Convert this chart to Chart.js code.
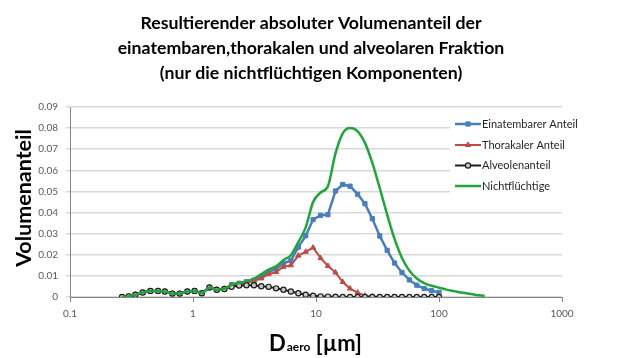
<!DOCTYPE html>
<html>
<head>
<meta charset="utf-8">
<script src="https://cdn.jsdelivr.net/npm/chart.js@4"></script>
<style>
  body { margin: 0; background: #fff; }
  #wrap { width: 620px; height: 358px; }
</style>
</head>
<body>
<div id="wrap"><canvas id="volumenChart" width="620" height="358"></canvas></div>
<script>
// Werte
const durchmesser = [0.265, 0.30, 0.34, 0.39, 0.45, 0.52, 0.59, 0.68, 0.78, 0.90, 1.03, 1.18, 1.36, 1.56, 1.80,
  2.06, 2.37, 2.72, 3.13, 3.59, 4.12, 4.74, 5.44, 6.25, 7.18, 8.25, 9.47, 10.9, 12.5, 14.4, 16.5, 18.9,
  21.8, 25.0, 28.7, 33.0, 37.9, 43.5, 50.0, 57.4, 66.0, 75.8, 87.1, 100];
const durchmesserGruen = [0.265, 0.30, 0.34, 0.39, 0.45, 0.52, 0.59, 0.68, 0.78, 0.90, 1.03, 1.18, 1.36, 1.56, 1.80,
  2.06, 2.37, 2.72, 3.13, 3.59, 4.12, 4.74, 5.44, 6.25, 7.18, 8.25, 9.47, 10.9, 12.5, 14.4, 16.5, 18.9,
  21.8, 25.0, 28.7, 33.0, 37.9, 43.5, 50.0, 57.4, 66.0, 75.8, 87.1, 100, 115, 132, 152, 175, 200, 235];

const einatembar = [0, 0.0003, 0.0011, 0.0021, 0.0029, 0.0029, 0.0026, 0.0016, 0.0016, 0.0026, 0.0029, 0.0018, 0.0045, 0.0034, 0.0039,
  0.0058, 0.0065, 0.0072, 0.008, 0.0098, 0.0118, 0.0133, 0.016, 0.0172, 0.0236, 0.029, 0.0367, 0.0387, 0.039, 0.0502, 0.0533, 0.0525,
  0.0487, 0.0442, 0.0371, 0.0289, 0.0221, 0.0161, 0.0116, 0.0081, 0.0056, 0.004, 0.003, 0.0022];
const thorakal = [0, 0.0003, 0.0011, 0.0021, 0.0029, 0.0029, 0.0026, 0.0016, 0.0016, 0.0026, 0.0029, 0.0018, 0.0045, 0.0034, 0.0039,
  0.0056, 0.0062, 0.0068, 0.0076, 0.0088, 0.0108, 0.0118, 0.0143, 0.015, 0.0196, 0.0214, 0.0234, 0.0184, 0.0147, 0.0116, 0.0071, 0.004,
  0.0021, 0.0006, 0.0002, 0, 0, 0, 0, 0, 0, 0, 0, 0];
const alveolen = [0, 0.0003, 0.0011, 0.0021, 0.0029, 0.0029, 0.0026, 0.0016, 0.0016, 0.0026, 0.0029, 0.0018, 0.0045, 0.0034, 0.0038,
  0.0048, 0.0054, 0.0056, 0.0056, 0.0051, 0.0048, 0.0041, 0.0034, 0.0026, 0.0018, 0.0011, 0.0006, 0.0003, 0.0002, 0.0001, 0, 0,
  0, 0, 0, 0, 0, 0, 0, 0, 0, 0, 0, 0];
const nichtfluechtig = [0, 0.0003, 0.0011, 0.0021, 0.0029, 0.0029, 0.0026, 0.0016, 0.0016, 0.0026, 0.0029, 0.0018, 0.0045, 0.0034, 0.0039,
  0.0058, 0.0066, 0.0075, 0.0086, 0.0108, 0.013, 0.0145, 0.0175, 0.0198, 0.026, 0.033, 0.045, 0.0495, 0.0525, 0.068, 0.0775, 0.08,
  0.0785, 0.073, 0.0635, 0.0515, 0.039, 0.0275, 0.0185, 0.0125, 0.0088, 0.0066, 0.0053, 0.0044, 0.0035, 0.0028, 0.0021, 0.0015, 0.001, 0.0005];

const xTicks = [0.1, 1, 10, 100, 1000];
const xTickLabels = ['0.1', '1', '10', '100', '1000'];
const yTicks = [0, 0.01, 0.02, 0.03, 0.04, 0.05, 0.06, 0.07, 0.08, 0.09];
const yTickLabels = ['0', '0.01', '0.02', '0.03', '0.04', '0.05', '0.06', '0.07', '0.08', '0.09'];

const titelZeilen = ['Resultierender absoluter Volumenanteil der',
  'einatembaren,thorakalen und alveolaren Fraktion',
  '(nur die nichtflüchtigen Komponenten)'];
const serienNamen = ['Einatembarer Anteil', 'Thorakaler Anteil', 'Alveolenanteil', 'Nichtflüchtige'];

const FONT = 'Lato, "Open Sans", sans-serif';

function punkte(xs, ys) {
  return ys.map((y, i) => ({ x: xs[i], y: y }));
}

const datasets = [
  {
    label: serienNamen[0], data: punkte(durchmesser, einatembar),
    borderColor: '#4a7ebb', backgroundColor: '#4a7ebb', borderWidth: 2.5,
    pointStyle: 'rect', pointRadius: 3, pointBorderWidth: 1, order: 3
  },
  {
    label: serienNamen[1], data: punkte(durchmesser, thorakal),
    borderColor: '#be4b48', backgroundColor: '#be4b48', borderWidth: 2,
    pointStyle: 'triangle', pointRadius: 3, pointBorderWidth: 1, order: 2
  },
  {
    label: serienNamen[2], data: punkte(durchmesser, alveolen),
    borderColor: '#1e1e1e', backgroundColor: '#c8c8c8', borderWidth: 2,
    pointStyle: 'circle', pointRadius: 2.6, pointBorderWidth: 1.2, order: 1
  },
  {
    label: serienNamen[3], data: punkte(durchmesserGruen, nichtfluechtig),
    borderColor: '#22a33d', backgroundColor: '#22a33d', borderWidth: 2.5,
    pointRadius: 0, cubicInterpolationMode: 'monotone', order: 0
  }
];

// Titel, Achsentitel und Legende selbst zeichnen
const beschriftung = {
  id: 'beschriftung',
  afterDraw(chart) {
    const c = chart.ctx;
    c.save();
    c.fillStyle = '#000';
    c.textAlign = 'center';
    c.textBaseline = 'alphabetic';
    c.font = 'bold 17.7px ' + FONT;
    titelZeilen.forEach((z, i) => c.fillText(z, 311, 29 + i * 25));

    // y-Achsentitel
    c.save();
    c.translate(31, 198);
    c.rotate(-Math.PI / 2);
    c.font = 'bold 21.5px ' + FONT;
    c.fillText('Volumenanteil', 0, 0);
    c.restore();

    // x-Achsentitel D_aero [µm]
    c.textAlign = 'left';
    const gross = 'bold 22px ' + FONT, klein = 'bold 12px ' + FONT;
    c.font = gross; const wD = c.measureText('D').width;
    c.font = klein; const wA = c.measureText('aero').width;
    c.font = gross; const wR = c.measureText(' [µm]').width;
    let x = 315 - (wD + wA + wR) / 2;
    c.font = gross; c.fillText('D', x, 351); x += wD + 1;
    c.font = klein; c.fillText('aero', x, 351); x += wA;
    c.font = gross; c.fillText(' [µm]', x, 351);

    // Legende
    c.fillStyle = '#fff';
    c.fillRect(450, 110, 170, 88);
    c.font = '11px ' + FONT;
    c.textBaseline = 'middle';
    const ys = [124, 145, 165.5, 186];
    chart.data.datasets.forEach((ds, i) => {
      const y = ys[i];
      c.strokeStyle = ds.borderColor;
      c.lineWidth = ds.borderWidth;
      c.beginPath(); c.moveTo(455, y); c.lineTo(481, y); c.stroke();
      if (ds.pointRadius > 0) {
        c.fillStyle = ds.backgroundColor;
        c.lineWidth = ds.pointBorderWidth;
        Chart.helpers.drawPoint(c, { pointStyle: ds.pointStyle, radius: ds.pointRadius, rotation: 0, borderWidth: ds.pointBorderWidth }, 468, y);
      }
      c.fillStyle = '#262626';
      c.fillText(ds.label, 482, y);
    });
    c.restore();
  }
};

new Chart(document.getElementById('volumenChart'), {
  type: 'line',
  data: { datasets: datasets },
  options: {
    responsive: false,
    animation: false,
    layout: { padding: { left: 0, right: 58, top: 107, bottom: 0 } },
    plugins: { legend: { display: false }, title: { display: false }, tooltip: { enabled: false } },
    scales: {
      x: {
        type: 'logarithmic', min: 0.1, max: 1000,
        afterBuildTicks: s => { s.ticks = xTicks.map(v => ({ value: v, major: true })); },
        afterFit: s => { s.height = 61; },
        ticks: {
          autoSkip: false, maxRotation: 0, padding: 6, color: '#595959',
          font: { family: FONT, size: 10 },
          callback: (v, i) => xTickLabels[i]
        },
        grid: { drawOnChartArea: false, drawTicks: true, tickLength: 5, color: '#868686' },
        border: { color: '#868686', width: 1 }
      },
      y: {
        min: 0, max: 0.09,
        afterBuildTicks: s => { s.ticks = yTicks.map(v => ({ value: v })); },
        afterFit: s => { s.width = 70; },
        ticks: {
          autoSkip: false, padding: 8, color: '#595959',
          font: { family: FONT, size: 10 },
          callback: (v, i) => yTickLabels[i]
        },
        grid: { color: '#d9d9d9', lineWidth: 1.5, tickLength: 4 },
        border: { color: '#868686', width: 1 }
      }
    }
  },
  plugins: [beschriftung]
});
</script>
</body>
</html>
